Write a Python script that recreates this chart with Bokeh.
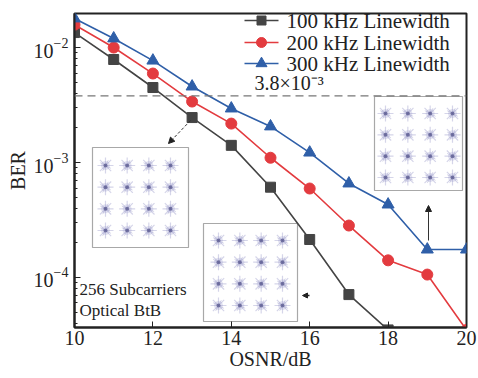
from bokeh.plotting import figure
from bokeh.models import (Label, Span, Arrow, NormalHead,
                          FixedTicker, LogTicker, ColumnDataSource)
from bokeh.embed import file_html
from bokeh.resources import INLINE

# ---------------- data ----------------
osnr = [10, 11, 12, 13, 14, 15, 16, 17, 18, 19, 20]
ber_100 = [0.0135, 0.00787, 0.00449, 0.00246, 0.00141, 0.00061, 0.000214, 7.1e-5, 3.5e-5]
ber_200 = [0.0158, 0.0100, 0.00594, 0.00339, 0.00218, 0.00110, 0.000594, 0.000283, 0.000141, 0.000106, 3.5e-5]
ber_300 = [0.0179, 0.0120, 0.00770, 0.00458, 0.00295, 0.00206, 0.00122, 0.000657, 0.000431, 0.000175, 0.000175]
labels = ["100 kHz Linewidth", "200 kHz Linewidth", "300 kHz Linewidth"]
threshold = 3.8e-3
x_ticks = [10, 12, 14, 16, 18, 20]

# ---------------- layout ----------------
W, H = 478, 378
L, R, T, B = 74, 12, 13, 51
Y_TOP, Y_BOT = -1.704, -4.435
FW, FH = W - L - R, H - T - B

def px2x(px):
    return 10 + (px - L) / FW * 10

def py2y(py):
    return 10 ** (Y_TOP - (py - T) / FH * (Y_TOP - Y_BOT))

FONT = "Liberation Serif"
p = figure(width=W, height=H, y_axis_type="log", x_range=(10, 20),
           y_range=(10 ** Y_BOT, 10 ** Y_TOP), output_backend="svg",
           toolbar_location=None, min_border_left=L, min_border_right=R,
           min_border_top=T, min_border_bottom=B)
p.grid.visible = False
p.outline_line_color = "#222222"
p.outline_line_width = 2
p.background_fill_color = "white"
p.border_fill_color = "white"

for ax in (p.xaxis[0], p.yaxis[0]):
    ax.axis_line_width = 2
    ax.axis_line_color = "#222222"
    ax.major_tick_in = 6
    ax.major_tick_out = 0
    ax.minor_tick_in = 3
    ax.minor_tick_out = 0
    ax.major_tick_line_color = "#222222"
    ax.minor_tick_line_color = "#222222"
    ax.major_label_text_font = FONT
    ax.major_label_text_font_size = "20px"
    ax.major_label_text_color = "#222222"
    ax.axis_label_text_font = FONT
    ax.axis_label_text_font_size = "20px"
    ax.axis_label_text_font_style = "normal"
    ax.axis_label_text_color = "#222222"
p.xaxis.ticker = FixedTicker(ticks=x_ticks)
p.xaxis.minor_tick_line_color = None
p.xaxis.axis_label = "OSNR/dB"
p.xaxis.axis_label_standoff = 0
p.xaxis.major_label_standoff = 3
p.yaxis.axis_label = "BER"
p.yaxis.axis_label_standoff = 2
p.yaxis.major_label_standoff = 6
p.yaxis.ticker = LogTicker(num_minor_ticks=10)

# threshold
p.add_layout(Span(location=threshold, dimension="width", line_color="#777777",
                  line_dash="8 5", line_width=1.2))
p.add_layout(Label(x=px2x(254), y=py2y(93), text="3.8×10⁻³", text_font=FONT,
                   text_font_size="20px", text_color="#222222"))

# insets (constellation placeholders)
insets = [(92, 188, 147, 247, 105, 170, 165, 230),
          (203, 297, 223, 321, 218, 282, 240, 305),
          (374, 462, 96, 190, 385, 452, 113, 177)]
for (x0, x1, y0, y1, cx0, cx1, cy0, cy1) in insets:
    p.quad(left=px2x(x0), right=px2x(x1), top=py2y(y0), bottom=py2y(y1),
           fill_color="white", line_color="#a8a8a8", line_width=1.2)
    xs, ys = [], []
    for i in range(4):
        for j in range(4):
            xs.append(px2x(cx0 + (cx1 - cx0) * i / 3))
            ys.append(py2y(cy0 + (cy1 - cy0) * j / 3))
    p.scatter(xs, ys, marker="asterisk", size=16, line_color="#8888c0",
              line_alpha=0.35, line_width=1.2)
    p.scatter(xs, ys, marker="x", size=12, line_color="#7070b0",
              line_alpha=0.3, line_width=1, angle=0.3)
    p.scatter(xs, ys, marker="circle", size=9, fill_color="#9090c8",
              line_color=None, fill_alpha=0.25)
    p.scatter(xs, ys, marker="circle", size=4, fill_color="#40407a",
              line_color=None, fill_alpha=0.6)

# arrows
p.add_layout(Arrow(x_start=px2x(190), y_start=py2y(120), x_end=px2x(168), y_end=py2y(143),
                   line_dash="3 2", line_width=1, line_color="#333333",
                   end=NormalHead(size=6, fill_color="#222222", line_color="#222222")))
p.add_layout(Arrow(x_start=px2x(309), y_start=py2y(295), x_end=px2x(302), y_end=py2y(295),
                   line_width=1.5, line_color="#222222",
                   end=NormalHead(size=5, fill_color="#222222", line_color="#222222")))
p.add_layout(Arrow(x_start=px2x(428), y_start=py2y(240), x_end=px2x(428), y_end=py2y(205),
                   line_width=1, line_color="#333333",
                   end=NormalHead(size=6, fill_color="#222222", line_color="#222222")))

# text
p.add_layout(Label(x=px2x(79), y=py2y(298), text="256 Subcarriers", text_font=FONT,
                   text_font_size="17px", text_color="#222222"))
p.add_layout(Label(x=px2x(79), y=py2y(319), text="Optical BtB", text_font=FONT,
                   text_font_size="17px", text_color="#222222"))

# series
colors = ["#444444", "#e33b3f", "#2f5fa8"]
markers = ["square", "circle", "triangle"]
sizes = [10, 11, 12]
series = [ber_100, ber_200, ber_300]
for lab, col, mk, sz, ys in zip(labels, colors, markers, sizes, series):
    src = ColumnDataSource(dict(x=osnr[:len(ys)], y=ys))
    p.line("x", "y", source=src, line_color=col, line_width=1.6)
    p.scatter("x", "y", source=src, marker=mk, size=sz, fill_color=col,
              line_color=col)

# legend (drawn by hand for tight row spacing)
row_py = [20, 42, 63]
for lab, col, mk, sz, py in zip(labels, colors, markers, sizes, row_py):
    yv = py2y(py)
    p.line([px2x(244), px2x(278)], [yv, yv], line_color=col, line_width=1.6)
    p.scatter([px2x(261)], [yv], marker=mk, size=sz - 1, fill_color=col, line_color=col)
    p.add_layout(Label(x=px2x(286), y=yv, text=lab, text_font=FONT,
                       text_font_size="21px", text_color="#222222",
                       text_baseline="middle"))

open("out.html", "w").write(file_html(p, INLINE))
